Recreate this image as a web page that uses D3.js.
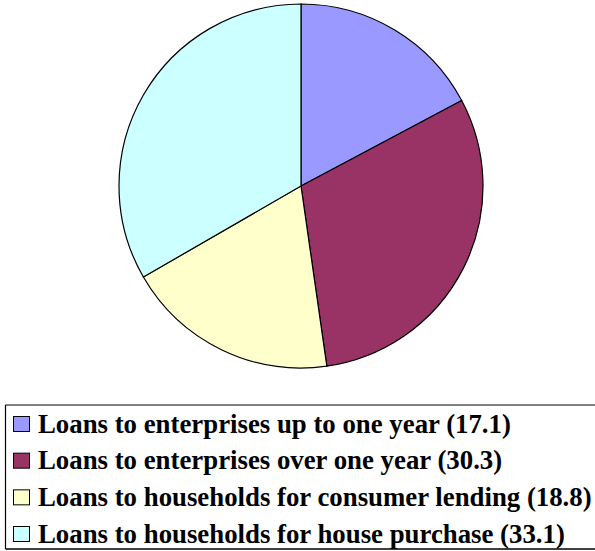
<!DOCTYPE html>
<html>
<head>
<meta charset="utf-8">
<script src="https://cdn.jsdelivr.net/npm/d3@7"></script>
<style>
  html, body { margin: 0; padding: 0; background: #fff; }
</style>
</head>
<body>
<div id="chart"></div>
<script>
'use strict'

// data
const categories = [
    "Loans to enterprises up to one year",
    "Loans to enterprises over one year",
    "Loans to households for consumer lending",
    "Loans to households for house purchase"
]
const values = [17.1, 30.3, 18.8, 33.1]
const colors = ["#9999FF", "#993366", "#FFFFCC", "#CCFFFF"]

const svgWidth = 595, svgHeight = 551

const svg = d3.select('#chart')
    .append('svg')
    .attr('width', svgWidth)
    .attr('height', svgHeight)

// pie
const cx = 301, cy = 186, radius = 182

const pie = d3.pie().sort(null).value(d => d)
const arc = d3.arc().innerRadius(0).outerRadius(radius)

const color = d3.scaleOrdinal().domain(categories).range(colors)

svg.append('g')
    .attr('transform', `translate(${cx},${cy})`)
    .selectAll('path')
    .data(pie(values))
    .join('path')
    .attr('d', arc)
    .attr('fill', (d, i) => color(categories[i]))
    .attr('stroke', '#000')
    .attr('stroke-width', 1.2)

// legend box
const box = { x: 5.5, y: 405, w: 600, h: 144 }
const legend = svg.append('g')

legend.append('line')
    .attr('x1', box.x).attr('x2', box.x + box.w)
    .attr('y1', box.y).attr('y2', box.y)
    .attr('stroke', '#808080').attr('stroke-width', 2)
legend.append('line')
    .attr('x1', box.x).attr('x2', box.x)
    .attr('y1', box.y).attr('y2', box.y + box.h)
    .attr('stroke', '#000').attr('stroke-width', 1.2)
legend.append('line')
    .attr('x1', box.x).attr('x2', box.x + box.w)
    .attr('y1', box.y + box.h).attr('y2', box.y + box.h)
    .attr('stroke', '#000').attr('stroke-width', 1.5)

const rowY = d3.scalePoint()
    .domain(categories)
    .range([424, 534])

const rows = legend.selectAll('g.row')
    .data(categories)
    .join('g')
    .attr('class', 'row')
    .attr('transform', d => `translate(0,${rowY(d)})`)

rows.append('rect')
    .attr('x', 13.5).attr('y', -7.5)
    .attr('width', 16).attr('height', 15)
    .attr('fill', d => color(d))
    .attr('stroke', '#000')
    .attr('stroke-width', 1)

rows.append('text')
    .attr('x', 38)
    .attr('y', 8.5)
    .attr('font-family', '"Liberation Serif", "Times New Roman", serif')
    .attr('font-weight', 'bold')
    .attr('font-size', 26.8)
    .attr('fill', '#000')
    .text((d, i) => `${d} (${values[i]})`)
</script>
</body>
</html>
